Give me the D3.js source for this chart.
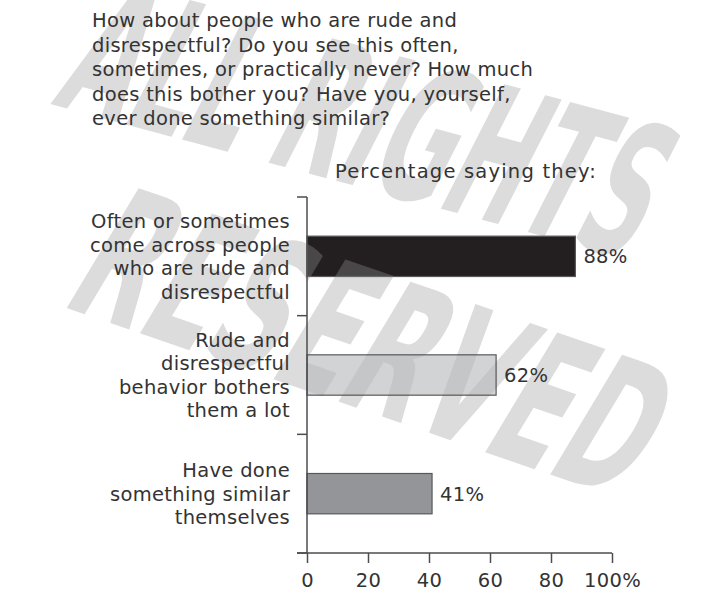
<!DOCTYPE html>
<html>
<head>
<meta charset="utf-8">
<script src="https://cdn.jsdelivr.net/npm/d3@7"></script>
<style>
  html, body { margin: 0; padding: 0; background: #fff; }
  svg { display: block; }
</style>
</head>
<body>
<svg id="chart"></svg>
<script>
// data
const questionLines = [
  "How about people who are rude and",
  "disrespectful? Do you see this often,",
  "sometimes, or practically never? How much",
  "does this bother you? Have you, yourself,",
  "ever done something similar?"
];
const subtitle = "Percentage saying they:";
const categories = ["often", "bothers", "done"];
const categoryLines = [
  ["Often or sometimes", "come across people", "who are rude and", "disrespectful"],
  ["Rude and", "disrespectful", "behavior bothers", "them a lot"],
  ["Have done", "something similar", "themselves"]
];
const values = [88, 62, 41];
const tickValues = [0, 20, 40, 60, 80, 100];
const watermarkLines = ["ALL RIGHTS", "RESERVED"];

// styles
const barFill = ["#231f20", "#d1d3d4", "#939598"];
const ink = "#333333";
const axisColor = "#4d4d4f";
const fontFamily = "'DejaVu Sans', sans-serif";
const fontSize = 19.5;
const wmFont = "'Liberation Sans Narrow', 'DejaVu Sans Condensed', sans-serif";

const width = 706, height = 591;
const svg = d3.select("#chart").attr("width", width).attr("height", height);

const x = d3.scaleLinear().domain([0, 100]).range([307, 612]);
const y = d3.scaleBand().domain(categories).range([197, 553])
  .paddingInner(0.66).paddingOuter(0.33);

function textStyle(sel) {
  sel.attr("font-family", fontFamily).attr("font-size", fontSize)
    .attr("letter-spacing", 0.3).attr("fill", ink);
}

const wmPlace = [
  { x: 50, y: 104, rot: 15, len: 600 },
  { x: 58, y: 305, rot: 19, len: 595 }
];
function drawWatermark(g) {
  g.attr("font-family", wmFont).attr("font-weight", "bold").attr("font-size", 150)
    .selectAll("text").data(watermarkLines).join("text")
    .attr("transform", (d, i) => {
      const p = wmPlace[i];
      return `translate(${p.x},${p.y}) rotate(${p.rot}) skewX(-12) scale(1,1.25)`;
    })
    .attr("textLength", (d, i) => wmPlace[i].len)
    .attr("lengthAdjust", "spacingAndGlyphs")
    .text(d => d);
}

// watermark behind everything
svg.append("g").attr("fill", "#dcdcdc").call(drawWatermark);

// question text
svg.append("text")
  .attr("x", 92).attr("y", 27)
  .call(textStyle)
  .selectAll("tspan").data(questionLines).join("tspan")
  .attr("x", 92).attr("dy", (d, i) => i ? 24.5 : 0)
  .text(d => d);

svg.append("text")
  .attr("x", 466).attr("y", 178)
  .attr("text-anchor", "middle")
  .call(textStyle)
  .attr("letter-spacing", 1.2)
  .text(subtitle);

// bars
svg.append("g").selectAll("rect").data(categories).join("rect")
  .attr("x", x(0))
  .attr("y", d => y(d))
  .attr("width", (d, i) => x(values[i]) - x(0))
  .attr("height", y.bandwidth())
  .attr("fill", (d, i) => barFill[i])
  .attr("stroke", "#58595b")
  .attr("stroke-width", 1.2);

// watermark tint showing through the first two bars
const tints = [{ fill: "#ffffff", op: 0.18 }, { fill: "#000000", op: 0.06 }];
tints.forEach((t, i) => {
  svg.append("clipPath").attr("id", "barClip" + i)
    .append("rect")
    .attr("x", x(0)).attr("y", y(categories[i]))
    .attr("width", x(values[i]) - x(0)).attr("height", y.bandwidth());
  svg.append("g").attr("clip-path", `url(#barClip${i})`)
    .attr("fill", t.fill).attr("fill-opacity", t.op)
    .call(drawWatermark);
});

// value labels
svg.append("g").selectAll("text").data(categories).join("text")
  .attr("x", (d, i) => x(values[i]) + 8)
  .attr("y", d => y(d) + y.bandwidth() / 2)
  .attr("dy", "0.36em")
  .call(textStyle)
  .text((d, i) => values[i] + "%");

// category labels
const lineGap = 23.5;
svg.append("g").selectAll("text").data(categories).join("text")
  .attr("text-anchor", "end")
  .call(textStyle)
  .each(function(d, i) {
    const lines = categoryLines[i];
    const cy = y(d) + y.bandwidth() / 2;
    const y0 = cy - (lines.length - 1) * lineGap / 2;
    d3.select(this).selectAll("tspan").data(lines).join("tspan")
      .attr("x", 290)
      .attr("y", (l, j) => y0 + j * lineGap)
      .attr("dy", "0.36em")
      .text(l => l);
  });

// y axis: line with ticks at band boundaries
const gap = (y.step() - y.bandwidth()) / 2;
const bounds = categories.map(c => y(c) - gap).concat([y.range()[1]]);
const yAxis = svg.append("g").attr("stroke", axisColor).attr("stroke-width", 1.5);
yAxis.append("line")
  .attr("x1", x(0)).attr("x2", x(0))
  .attr("y1", y.range()[0]).attr("y2", y.range()[1]);
yAxis.selectAll("line.tick").data(bounds).join("line")
  .attr("class", "tick")
  .attr("x1", x(0) - 10).attr("x2", x(0))
  .attr("y1", d => d).attr("y2", d => d);

// x axis
const xAxis = svg.append("g")
  .attr("transform", `translate(0,${y.range()[1]})`)
  .call(d3.axisBottom(x).tickValues(tickValues).tickSize(10).tickSizeOuter(0)
    .tickFormat(d => d === 100 ? "100%" : d));
xAxis.select(".domain").attr("stroke", axisColor).attr("stroke-width", 1.5)
  .attr("d", `M${x(0) - 10},0H${x(100)}`);
xAxis.selectAll(".tick line").attr("stroke", axisColor).attr("stroke-width", 1.5);
xAxis.selectAll(".tick text")
  .attr("y", 27).attr("dy", "0.36em")
  .call(textStyle);
</script>
</body>
</html>
